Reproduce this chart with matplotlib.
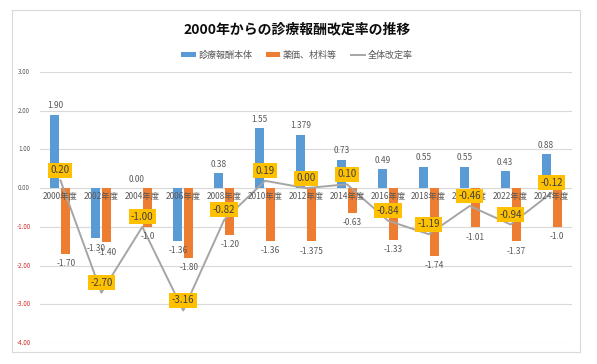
import matplotlib
matplotlib.use("Agg")
import matplotlib.pyplot as plt
import numpy as np
from matplotlib.patches import Rectangle, Patch
from matplotlib.lines import Line2D

plt.rcParams['font.family'] = ['Noto Sans CJK JP', 'DejaVu Sans']

categories = ["2000年度", "2002年度", "2004年度", "2006年度", "2008年度", "2010年度", "2012年度",
              "2014年度", "2016年度", "2018年度", "2020年度", "2022年度", "2024年度"]
honbai = [1.90, -1.30, 0.00, -1.36, 0.38, 1.55, 1.379, 0.73, 0.49, 0.55, 0.55, 0.43, 0.88]
honbai_labels = ["1.90", "-1.30", "0.00", "-1.36", "0.38", "1.55", "1.379", "0.73", "0.49", "0.55", "0.55", "0.43", "0.88"]
yakka = [-1.70, -1.40, -1.0, -1.80, -1.20, -1.36, -1.375, -0.63, -1.33, -1.74, -1.01, -1.37, -1.0]
yakka_labels = ["-1.70", "-1.40", "-1.0", "-1.80", "-1.20", "-1.36", "-1.375", "-0.63", "-1.33", "-1.74", "-1.01", "-1.37", "-1.0"]
zentai = [0.20, -2.70, -1.00, -3.16, -0.82, 0.19, 0.00, 0.10, -0.84, -1.19, -0.46, -0.94, -0.12]
zentai_labels = ["0.20", "-2.70", "-1.00", "-3.16", "-0.82", "0.19", "0.00", "0.10", "-0.84", "-1.19", "-0.46", "-0.94", "-0.12"]
yticks = [3, 2, 1, 0, -1, -2, -3, -4]

BLUE = "#5B9BD5"
ORANGE = "#ED7D31"
GRAY = "#A5A5A5"
YEL = "#FFC000"
TXT = "#595959"

W, H = 597, 364
fig = plt.figure(figsize=(W / 100, H / 100), dpi=100)
fig.patch.set_facecolor("white")

# outer chart border
fig.add_artist(Rectangle((12 / W, 1 - 352 / H), (580 - 12) / W, (352 - 10) / H,
                         transform=fig.transFigure, fill=False, edgecolor="#D9D9D9", lw=0.8))

ax = fig.add_axes([40 / W, 1 - 343 / H, (572 - 40) / W, (343 - 72) / H])
ax.set_xlim(-0.5, len(categories) - 0.5)
ax.set_ylim(-4, 3)
for s in ax.spines.values():
    s.set_visible(False)
ax.set_xticks([])
ax.set_yticks([])
for t in yticks:
    ax.axhline(t, color="#D9D9D9", lw=0.8, zorder=0)
    ax.annotate(f"{t:.2f}", (0, t), xycoords=ax.get_yaxis_transform(), xytext=(-16, 0),
                textcoords="offset pixels", ha="center", va="center", fontsize=4.5,
                color=(TXT if t >= 0 else "#D62828"), annotation_clip=False)

x = np.arange(len(categories))
bw = 0.22
off = 0.134
ax.bar(x - off, honbai, width=bw, color=BLUE, zorder=2)
ax.bar(x + off, yakka, width=bw, color=ORANGE, zorder=2)
ax.plot(x, zentai, color=GRAY, lw=1.4, zorder=3)

for xi, v, lab in zip(x, honbai, honbai_labels):
    dy = 9 if v >= 0 else -10
    ax.annotate(lab, (xi - off, v), xytext=(0, dy), textcoords="offset pixels",
                ha="center", va="center", fontsize=6, color=TXT, zorder=5)
for xi, v, lab in zip(x, yakka, yakka_labels):
    ax.annotate(lab, (xi + off, v), xytext=(0, -10), textcoords="offset pixels",
                ha="center", va="center", fontsize=6, color=TXT, zorder=5)

for xi, c in zip(x, categories):
    ax.annotate(c, (xi, 0), xytext=(0, -8), textcoords="offset pixels",
                ha="center", va="center", fontsize=6, color=TXT, zorder=6)

for xi, v, lab in zip(x, zentai, zentai_labels):
    ax.annotate(lab, (xi, v), xytext=(0, 10), textcoords="offset pixels",
                ha="center", va="center", fontsize=7, color="#404040", zorder=7,
                bbox=dict(boxstyle="square,pad=0.25", facecolor=YEL, edgecolor="none"))

fig.text(297 / W, 1 - 29 / H, "2000年からの診療報酬改定率の推移", ha="center", va="center",
         fontsize=10, fontweight="bold", color="#0D0D0D")

handles = [Patch(facecolor=BLUE, edgecolor="none"),
           Patch(facecolor=ORANGE, edgecolor="none"),
           Line2D([0], [0], color=GRAY, lw=1.4)]
fig.legend(handles, ["診療報酬本体", "薬価、材料等", "全体改定率"], loc="center",
           bbox_to_anchor=(297 / W, 1 - 55 / H), ncol=3, frameon=False, fontsize=6.5,
           labelcolor=TXT, handlelength=1.6, handleheight=0.5, columnspacing=1.5,
           handletextpad=0.3)

fig.savefig("out.png", dpi=100, facecolor="white")
